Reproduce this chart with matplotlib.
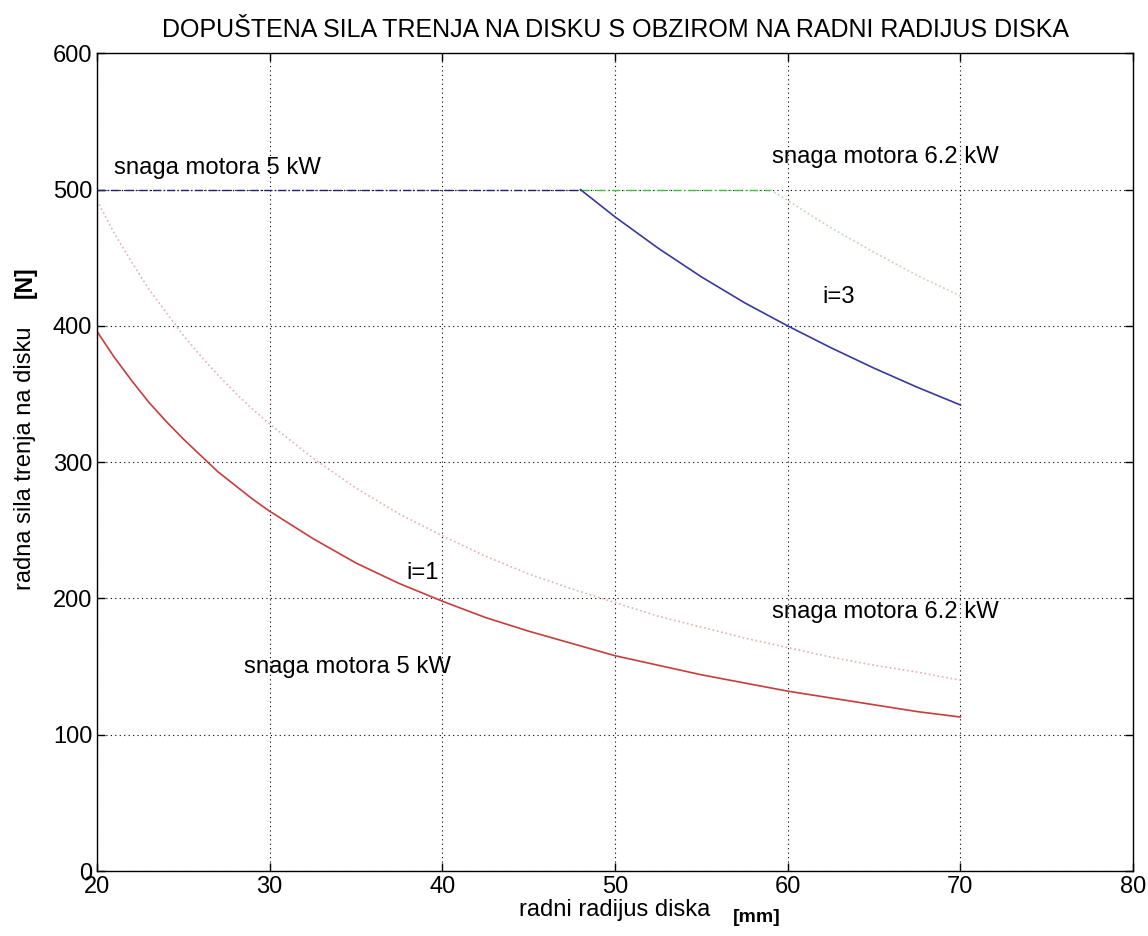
import matplotlib
matplotlib.use("Agg")
import matplotlib.pyplot as plt

plt.rcParams['font.family'] = ['Liberation Sans', 'DejaVu Sans']

# radni radijus [mm]
r = [20, 21, 22, 23, 24, 25, 26, 27, 28, 29, 30, 32.5, 35, 37.5, 40, 42.5,
     45, 47.5, 50, 52.5, 55, 57.5, 60, 62.5, 65, 67.5, 70]
# i=1, 5 kW
f_i1_5kw = [396, 377, 360, 344, 330, 317, 305, 293, 283, 273, 264, 244, 226,
            211, 198, 186, 176, 167, 158, 151, 144, 138, 132, 127, 122, 117, 113]
# i=1, 6.2 kW
f_i1_62kw = [492, 468, 447, 427, 410, 393, 378, 364, 351, 339, 328, 303, 281,
             262, 246, 231, 218, 207, 197, 187, 179, 171, 164, 157, 151, 146, 140]

# i=3, 5 kW (ograniceno na 500 N)
r_i3_flat = [20, 48]
f_i3_flat = [500, 500]
r_i3 = [48, 50, 52.5, 55, 57.5, 60, 62.5, 65, 67.5, 70]
f_i3 = [500, 480, 457, 436, 417, 400, 384, 369, 355, 342]

# i=3, 6.2 kW
r_i3b_flat = [48, 59]
f_i3b_flat = [500, 500]
r_i3b = [59, 60, 62.5, 65, 67.5, 70]
f_i3b = [500, 492, 472, 454, 437, 422]

xticks = [20, 30, 40, 50, 60, 70, 80]
yticks = [0, 100, 200, 300, 400, 500, 600]

fig = plt.figure(figsize=(11.48, 9.36), dpi=100)
ax = fig.add_axes([0.0845, 0.0694, 0.9025, 0.8736])

ax.plot(r, f_i1_62kw, color='#e4b0b0', linestyle=':', linewidth=1.2)
ax.plot(r, f_i1_5kw, color='#c83c3c', linewidth=1.2)
ax.plot(r_i3b, f_i3b, color='#b0dcb0', linestyle=':', linewidth=1.2)
ax.plot(r_i3b_flat, f_i3b_flat, color='#40c040', linestyle=(0, (6, 2, 1, 2)), linewidth=1.0)
ax.plot(r_i3_flat, f_i3_flat, color='#20206e', linestyle=(0, (6, 1.5, 1, 1.5)), linewidth=1.0)
ax.plot(r_i3, f_i3, color='#3838a0', linewidth=1.2)

ax.set_xlim(20, 80)
ax.set_ylim(0, 600)
ax.set_xticks(xticks)
ax.set_yticks(yticks)
ax.grid(True, color='black', linestyle=(0, (1, 3)), linewidth=0.8)
ax.tick_params(direction='in', length=6, top=True, right=True, labelsize=17, width=1)
for s in ax.spines.values():
    s.set_linewidth(1.0)

ax.set_title('DOPUŠTENA SILA TRENJA NA DISKU S OBZIROM NA RADNI RADIJUS DISKA',
             fontsize=18, pad=12)

ax.text(21.0, 516, 'snaga motora 5 kW', fontsize=17.2, va='center')
ax.text(59.1, 524, 'snaga motora 6.2 kW', fontsize=17.2, va='center')
ax.text(62.0, 421, 'i=3', fontsize=17.2, va='center')
ax.text(37.9, 219, 'i=1', fontsize=17.2, va='center')
ax.text(28.5, 150, 'snaga motora 5 kW', fontsize=17.2, va='center')
ax.text(59.1, 190, 'snaga motora 6.2 kW', fontsize=17.2, va='center')

fig.text(0.452, 0.028, 'radni radijus diska', fontsize=17, ha='left', va='center')
fig.text(0.638, 0.020, '[mm]', fontsize=14, fontweight='bold', ha='left', va='center')
fig.text(0.022, 0.51, 'radna sila trenja na disku', fontsize=17, rotation=90,
         ha='center', va='center')
fig.text(0.022, 0.698, '[N]', fontsize=16.5, fontweight='bold', rotation=90,
         ha='center', va='center')

fig.savefig('out.png', dpi=100)
